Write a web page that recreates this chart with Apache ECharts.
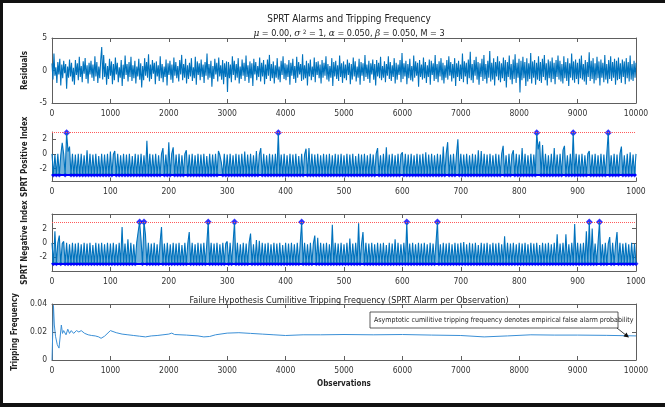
<!DOCTYPE html>
<html>
<head>
<meta charset="utf-8">
<script src="https://cdn.jsdelivr.net/npm/echarts@6/dist/echarts.min.js"></script>
<style>
  html, body { margin: 0; padding: 0; background: #fff; }
  #chart { width: 665px; height: 407px; }
</style>
</head>
<body>
<div id="chart"></div>
<script>
// residuals (one value per ~17 observations)
const residuals = [
  1.1,-1.4,2.6,-0.8,0.5,-1.9,1.3,-0.6,1.8,-2.3,0.9,-1.2,1.5,-0.4,1.0,-2.8,0.6,-1.1,1.7,-0.9,
  1.2,-1.7,0.4,-2.2,1.6,-0.7,1.1,-1.5,2.1,-1.0,0.7,-1.8,1.4,-0.5,1.9,-1.3,0.8,-2.0,1.2,-0.6,
  1.5,-1.1,0.9,-1.6,2.2,-0.9,1.3,-1.9,0.6,-1.2,1.7,3.6,-1.4,2.4,-1.0,1.1,-2.2,0.7,-1.3,1.8,
  -0.8,1.4,-2.1,1.0,-1.5,2.0,-0.6,1.2,-1.8,0.5,-1.1,1.6,-2.4,0.9,-1.3,2.3,-0.7,1.0,-1.7,1.3,
  -1.0,2.1,-1.6,0.8,-1.2,1.5,-2.0,0.6,-0.9,1.8,-1.4,1.1,-2.6,0.7,-1.5,1.9,-0.8,1.3,-1.1,2.5,
  -1.7,0.9,-1.3,1.6,-0.5,1.2,-2.1,1.4,-0.9,0.8,-1.6,2.2,-1.2,1.0,-1.8,0.6,-1.0,1.7,-2.3,1.1,
  -0.7,1.5,-1.4,0.9,-1.9,2.0,-0.8,1.3,-1.2,0.7,-1.7,1.6,-0.6,2.4,-1.5,1.0,-1.1,1.8,-2.0,0.8,
  -1.3,1.2,-0.9,1.9,-1.6,0.5,-1.2,2.1,-2.2,1.4,-0.7,1.1,-1.5,1.7,-1.0,0.9,-1.9,1.3,-0.8,2.6,
  -1.4,1.0,-1.1,1.5,-2.5,0.7,-1.3,1.8,-0.6,1.2,-1.7,2.0,-0.9,0.8,-1.4,1.6,-2.1,1.1,-1.0,1.4,
  -3.3,1.3,-1.2,0.9,-1.8,2.2,-0.7,1.5,-1.5,1.0,-1.1,1.9,-2.0,0.6,-1.3,1.7,-0.8,1.2,-1.6,2.3,
  -1.0,0.8,-1.9,1.4,-1.2,1.1,-2.4,1.8,-0.6,1.3,-1.5,0.7,-1.0,2.0,-1.7,1.2,-0.9,1.6,-2.1,0.9,
  -1.3,1.7,-0.8,2.4,-1.6,1.0,-1.2,1.4,-2.0,0.8,-1.1,1.9,-1.4,0.6,-1.8,1.5,-0.7,2.2,-1.3,1.1,
  -1.5,0.9,-1.0,1.6,-2.2,1.2,-0.8,1.8,-1.3,0.7,-1.9,2.1,-1.1,1.3,-0.6,1.0,-1.6,2.5,-1.4,0.8,
  -1.2,1.5,-2.3,1.1,-0.9,1.7,-1.5,0.6,-1.0,2.0,-1.8,1.3,-0.7,1.4,-1.2,0.9,-2.0,1.6,-1.1,1.2,
  -0.8,2.2,-1.4,1.0,-1.7,0.7,-1.1,1.9,-2.4,1.3,-0.9,1.5,-1.3,0.8,-1.6,2.3,-1.0,1.1,-1.9,1.4,
  -1.2,0.9,-1.5,1.7,-0.7,1.2,-2.1,1.0,-1.4,2.0,-0.9,1.4,-1.7,0.6,-1.1,1.8,-2.2,1.3,-0.8,1.1,
  -1.6,2.4,-1.0,0.9,-1.3,1.5,-1.9,1.1,-0.6,1.7,-1.4,1.0,-2.3,1.6,-0.9,1.2,-1.2,2.1,-1.5,0.7,
  -1.1,1.4,-1.8,1.0,-0.8,2.2,-1.3,1.3,-1.6,0.8,-1.0,1.9,-2.0,1.2,-1.4,0.9,-0.7,1.6,-1.8,2.7,
  -1.3,1.1,-0.9,1.5,-2.1,1.0,-1.2,1.8,-1.5,0.7,-1.7,2.3,-1.1,1.4,-0.8,1.2,-2.5,1.6,-1.0,0.9,
  -1.4,2.0,-1.2,1.3,-1.9,0.8,-1.0,1.7,-2.2,1.5,-0.7,1.1,-1.6,2.4,-1.3,1.0,-1.8,1.4,-0.9,1.9,
  -1.5,1.2,-2.0,0.8,-1.1,1.6,-1.4,2.2,-0.8,1.3,-1.7,1.0,-1.2,1.9,-2.4,1.1,-1.0,1.5,-1.6,0.9,
  -1.3,2.6,-1.8,1.4,-0.9,1.2,-2.1,1.7,-1.2,2.9,-1.5,1.0,-1.9,1.6,-0.8,2.1,-1.4,1.3,-2.2,1.1,
  -1.0,1.8,-1.6,2.4,-1.3,1.0,-2.0,1.5,-1.1,3.0,-1.7,1.2,-1.4,1.9,-2.3,1.3,-0.9,2.2,-1.5,1.4,
  -1.8,1.1,-1.2,2.0,-1.6,1.6,-2.6,1.3,-1.0,2.3,-1.4,1.0,-2.1,1.7,-1.3,2.5,-1.9,1.2,-1.1,1.8,
  -3.4,1.5,-1.5,2.1,-1.2,1.3,-2.4,1.9,-1.7,1.1,-1.3,2.7,-2.0,1.4,-1.1,1.6,-2.2,1.2,-1.4,2.2,
  -1.6,1.3,-1.9,1.8,-1.0,2.4,-1.5,1.1,-2.3,1.7,-1.2,1.4,-1.8,2.0,-1.3,1.2,-2.1,1.6,-1.0,2.3,
  -1.4,1.5,-1.7,1.0,-2.0,2.2,-1.2,1.3,-1.6,1.9,-2.4,1.1,-1.1,2.6,-1.5,1.4,-1.9,1.7,-1.3,1.2,
  -2.1,1.8,-1.2,2.3,-1.4,1.0,-1.7,1.6,-2.2,1.3,-1.0,2.8,-1.6,1.5,-1.3,1.9,-2.0,1.1,-1.5,2.1,
  -1.2,1.4,-2.3,1.7,-1.1,1.2,-1.8,2.4,-1.4,1.0,-2.0,1.6,-1.3,2.2,-1.6,1.3,-1.1,1.8,-2.2,1.5,
  -1.5,2.0,-1.3,1.1,-1.9,1.7,-1.0,1.4,-2.1,1.9,-1.2,1.3,-1.7,2.3,-1.4,1.0,-1.6,1.5,-1.1,1.2
];
const residSpan = 10000;

// SPRT indices, one value every 2.5 samples (0..1000)
const idxStep = 2.5;
const posIndex = [
  0,-2.9,-0.1,-2.9,0,-2.9,-0.2,1.5,0,-2.9,2.9,0.3,1.0,-2.9,0,-2.9,-0.1,-2.9,0,-2.9,
  0,-2.9,-0.2,-2.9,0.5,-2.9,0,-2.9,-0.1,-2.9,0,-2.9,-0.3,-2.9,0,-2.9,-0.1,-2.9,0,-2.9,
  0.3,-2.9,-0.1,0.4,-2.9,0,-2.9,-0.2,-2.9,0,-2.9,-0.1,-2.9,0,-2.9,-0.3,-2.9,0,-2.9,-0.1,
  -2.9,0,-2.9,-0.2,-2.9,1.8,-2.9,0,-2.9,-0.1,-2.9,0,-2.9,-0.2,-2.9,0,0.8,-2.9,-0.1,-2.9,
  1.6,-2.9,0,0.9,-2.9,-0.1,-2.9,0,-2.9,-0.2,-2.9,0,0.5,-2.9,-0.1,-2.9,0,-2.9,-0.2,-2.9,
  0,-2.9,-0.1,-2.9,0,-2.9,-0.3,-2.9,0,-2.9,-0.1,-2.9,0,-2.9,0.4,-0.2,-1.2,-2.9,0,-2.9,
  -0.1,-2.9,0,-2.9,-0.2,-2.9,0,-2.9,-0.1,-2.9,0,-2.9,0.3,-2.9,-0.1,-2.9,0,-2.9,-0.2,-2.9,
  0.4,-2.9,-0.1,0.8,-2.9,0,-2.9,-0.2,-2.9,0,-2.9,-0.1,-2.9,0,-2.9,2.9,-2.9,-0.1,-2.9,0,
  -2.9,-0.2,-2.9,0,-2.9,-0.1,-2.9,0,-2.9,-0.3,-2.9,0,-2.9,-0.1,0.7,-2.9,0.8,-2.9,0,-2.9,
  -0.1,-2.9,0,-2.9,-0.2,-2.9,0,-2.9,-0.1,-2.9,0,-2.9,-0.2,-2.9,0,-2.9,-0.1,-2.9,0,-2.9,
  -0.2,-2.9,0,-2.9,-0.1,-2.9,0,-2.9,-0.3,-2.9,0,-2.9,-0.1,-2.9,0,-2.9,-0.2,-2.9,0,-2.9,
  -0.1,-2.9,0,0.8,-2.9,-0.2,-2.9,0,-2.9,0.9,-2.9,-0.1,-2.9,0,-2.9,-0.2,-2.9,0,-2.9,-0.1,
  0.2,-2.9,0,-2.9,-0.1,-2.9,0,-2.9,-0.2,-2.9,0,-2.9,-0.1,-2.9,0,-2.9,0.2,-2.9,-0.1,-2.9,
  0,-2.9,-0.2,-2.9,0,-2.9,-0.1,-2.9,1.0,-2.9,0,1.6,-2.9,-0.1,-2.9,0,-2.9,-0.2,2.0,-2.9,
  0,-2.9,-0.1,-2.9,0,-2.9,-0.2,-2.9,0,-2.9,-0.1,-2.9,0.5,-2.9,0.4,-2.9,0,-2.9,-0.1,-2.9,
  0,-2.9,-0.2,-2.9,0,-2.9,-0.1,-2.9,0,1.1,-2.9,-0.2,-2.9,0,-2.9,-0.1,0.5,-2.9,0,-2.9,
  -0.1,-2.9,0.8,-2.9,0,-2.9,-0.2,-2.9,0,-2.9,-0.1,-2.9,2.9,0.6,1.7,-2.9,1.2,-2.9,0,-2.9,
  -0.2,-2.9,0,-2.9,0.8,-2.9,-0.1,-2.9,0,-2.9,0.5,1.1,-2.9,-0.2,-2.9,0,-2.9,2.9,-2.9,0,
  -2.9,-0.1,-2.9,0,-2.9,-0.2,-2.9,0,0.4,-2.9,-0.1,-2.9,0,-2.9,-0.2,-2.9,0,-2.9,-0.1,-2.9,
  0,2.9,-2.9,-0.2,-2.9,0,-2.9,-0.1,-2.9,0,1.0,-2.9,-0.2,-2.9,0,-2.9,0.2,-2.9,-0.1,-2.9,
  0
];
const negIndex = [
  0,-2.9,1.6,-2.9,0,1.0,-2.9,-0.1,0.2,-2.9,0,-2.9,-0.2,-2.9,0,-2.9,-0.1,-2.9,0,-2.9,
  -0.2,-2.9,0,-2.9,-0.1,-2.9,0,-2.9,-0.3,-2.9,0,-2.9,-0.1,-2.9,0,-2.9,-0.2,-2.9,0,-2.9,
  -0.1,-2.9,0,-2.9,-0.2,-2.9,0,-2.9,2.2,-2.9,-0.1,-2.9,0.5,-2.9,0,-2.9,-0.2,-2.9,0,1.5,
  2.9,0.4,-2.9,2.9,1.2,-2.9,0,-2.9,-0.1,-2.9,0,-2.9,-0.2,-2.9,0,2.2,-2.9,-0.1,-2.9,0,
  -2.9,-0.2,-2.9,0,-2.9,-0.1,-2.9,0,-2.9,-0.3,-2.9,0,-2.9,-0.1,1.5,-2.9,0,-2.9,-0.2,-2.9,
  0,-2.9,-0.1,-2.9,0,-2.9,-0.2,2.9,-2.9,0,-2.9,-0.1,-2.9,0,-2.9,-0.2,-2.9,0,-2.9,-0.1,
  0.2,-2.9,0,-2.9,-0.1,2.9,-2.9,0,-2.9,-0.2,-2.9,0,-2.9,-0.1,-2.9,0,1.3,-2.9,-0.2,-2.9,
  0.4,-2.9,0.3,-2.9,0,-2.9,-0.1,-2.9,0,-2.9,-0.2,-2.9,0,-2.9,-0.1,-2.9,0,-2.9,-0.3,-2.9,
  0,-2.9,-0.1,-2.9,0,-2.9,-0.2,-2.9,0,-2.9,-0.1,2.9,-2.9,0,-2.9,-0.2,-2.9,0,-2.9,-0.1,
  1.0,-2.9,0.7,-2.9,0,-2.9,-0.1,-2.9,0,-2.9,-0.2,-2.9,2.5,-2.9,0,-2.9,-0.1,-2.9,0,-2.9,
  -0.2,-2.9,0,-2.9,0.6,-2.9,-0.1,-2.9,0,-2.9,2.7,-2.9,-0.2,1.5,-2.9,0,-2.9,-0.1,-2.9,0,
  -2.9,-0.2,-2.9,0,-2.9,-0.1,-2.9,0,-2.9,-0.3,-2.9,0,-2.9,-0.1,-2.9,0.5,-2.9,0,-2.9,-0.2,
  -2.9,0,-2.9,2.9,-2.9,-0.1,-2.9,0,-2.9,-0.2,-2.9,0,-2.9,-0.1,-2.9,0,-2.9,-0.2,-2.9,0,
  -2.9,-0.1,-2.9,0,2.9,-2.9,-0.2,-2.9,0,-2.9,-0.1,-2.9,0,-2.9,-0.2,-2.9,0,-2.9,-0.1,-2.9,
  0,-2.9,0.1,-2.9,-0.2,-2.9,0,-2.9,-0.1,-2.9,0,-2.9,-0.3,-2.9,0,-2.9,-0.1,-2.9,0,-2.9,
  -0.2,-2.9,0,-2.9,-0.1,-2.9,0,-2.9,-0.2,-2.9,0.9,-2.9,0,-2.9,-0.1,-2.9,0,-2.9,-0.2,-2.9,
  0,-2.9,-0.1,-2.9,0,-2.9,-0.2,-2.9,0,-2.9,-0.1,-2.9,0,-2.9,-0.3,-2.9,0,-2.9,-0.1,-2.9,
  0,-2.9,-0.2,-2.9,0,-2.9,1.2,-2.9,-0.1,-2.9,0,-2.9,1.2,-2.9,-0.2,-2.9,0,-2.9,2.6,-2.9,
  0,-2.9,-0.1,-2.9,0,-2.9,1.6,-2.9,2.9,-2.9,2.0,-2.9,-0.1,-2.9,0,2.9,-2.9,-0.2,-2.9,0,
  -2.9,-0.1,0.8,-2.9,0,-2.9,-0.2,1.5,-2.9,0,-2.9,-0.1,-2.9,0,-2.9,-0.2,-2.9,0,-2.9,-0.1,
  -2.9
];
const upperThr = 2.9;
const lowerThr = -2.9;

// cumulative tripping frequency
const cumObs = [
  0,15,25,40,60,90,120,145,160,180,
  200,240,270,300,330,370,420,460,500,560,
  620,680,740,800,840,900,1000,1100,1200,1300,
  1400,1500,1600,1700,1800,1900,2000,2050,2100,2300,
  2500,2600,2700,2800,3000,3200,3400,3600,3800,4000,
  4300,4600,5000,5500,6000,6500,7000,7400,7800,8200,
  8600,9000,9500,10000
];
const cumFreq = [
  0,0,0.039,0.025,0.017,0.011,0.0085,0.0072,0.025,0.019,
  0.021,0.018,0.022,0.019,0.021,0.019,0.021,0.02,0.021,0.019,
  0.018,0.0175,0.0172,0.0165,0.0155,0.017,0.021,0.0195,0.0185,0.018,
  0.0175,0.017,0.0165,0.0172,0.0175,0.018,0.0185,0.0192,0.0182,0.0178,
  0.0172,0.0165,0.0168,0.018,0.0192,0.0195,0.019,0.0185,0.018,0.0175,
  0.018,0.018,0.0182,0.018,0.0182,0.0178,0.0175,0.0165,0.0172,0.018,
  0.0178,0.0178,0.0176,0.0172
];

const indexTicks = [-2, 0, 2];

const FONT = "'Liberation Sans Narrow', 'Arial Narrow', 'DejaVu Sans Condensed', sans-serif";
const AX = '#5e5e5e';
const TXT = '#333';

const residData = residuals.map((v, i) => [i * residSpan / (residuals.length - 1), v]);
const posData = posIndex.map((v, i) => [i * idxStep, v]);
const negData = negIndex.map((v, i) => [i * idxStep, v]);
const cumData = cumObs.map((x, i) => [x, cumFreq[i]]);

function plain(v) { return String(v); }

function xAx(grid, max, interval, opts) {
  return Object.assign({
    type: 'value', gridIndex: grid, min: 0, max: max, interval: interval,
    axisLine: { onZero: false, lineStyle: { color: AX, width: 1 } },
    axisTick: { inside: true, length: 4, lineStyle: { color: AX } },
    axisLabel: { fontSize: 8.5, color: TXT, fontFamily: FONT, margin: 6, formatter: plain },
    splitLine: { show: false }
  }, opts || {});
}
function yAx(grid, opts) {
  return Object.assign({
    type: 'value', gridIndex: grid,
    axisLine: { show: true, onZero: false, lineStyle: { color: AX, width: 1 } },
    axisTick: { show: true, inside: true, length: 4, lineStyle: { color: AX } },
    axisLabel: { fontSize: 8.5, color: TXT, fontFamily: FONT, margin: 5, formatter: plain },
    splitLine: { show: false },
    nameLocation: 'middle', nameRotate: 90, nameGap: 20,
    nameTextStyle: { fontSize: 8, fontWeight: 'bold', color: '#222', fontFamily: FONT }
  }, opts || {});
}
function topAx(grid, max, interval) {
  return xAx(grid, max, interval, { position: 'top', axisLabel: { show: false } });
}
function rightAx(grid, min, max, interval, extra) {
  return yAx(grid, Object.assign({ position: 'right', min: min, max: max, interval: interval, axisLabel: { show: false } }, extra || {}));
}
function idxTickOpts() {
  return {
    axisLabel: { fontSize: 8.5, color: TXT, fontFamily: FONT, margin: 5, customValues: indexTicks, formatter: plain },
    axisTick: { show: true, inside: true, length: 4, lineStyle: { color: AX }, customValues: indexTicks }
  };
}
function indexSeries(xi, yi, data) {
  return [
    { type: 'line', xAxisIndex: xi, yAxisIndex: yi, data: data, showSymbol: false,
      lineStyle: { color: '#0072BD', width: 1.1 },
      areaStyle: { color: '#0072BD', opacity: 0.55, origin: lowerThr },
      markLine: { silent: true, symbol: 'none', label: { show: false },
        data: [
          { yAxis: upperThr, lineStyle: { color: '#ff5a5a', type: 'dotted', width: 1 } },
          { yAxis: lowerThr, lineStyle: { color: '#0000ff', type: 'solid', width: 2 } }
        ] } },
    { type: 'scatter', xAxisIndex: xi, yAxisIndex: yi, symbol: 'diamond', symbolSize: 5,
      itemStyle: { color: '#0000ff' }, data: data.filter(p => p[1] <= lowerThr) },
    { type: 'scatter', xAxisIndex: xi, yAxisIndex: yi, symbol: 'diamond', symbolSize: 7,
      itemStyle: { color: '#0000ff' }, data: data.filter(p => p[1] >= upperThr) }
  ];
}

const chart = echarts.init(document.getElementById('chart'));
chart.setOption({
  animation: false,
  backgroundColor: '#fff',
  textStyle: { fontFamily: FONT },
  title: [
    { text: 'SPRT Alarms and Tripping Frequency', left: 344, top: 9, textAlign: 'center',
      textStyle: { fontSize: 10, fontWeight: 'normal', color: '#222', fontFamily: FONT } },
    { text: '{g|μ} = 0.00, {g|σ} {s|2} = 1, {g|α} = 0.050, {g|β} = 0.050, M = 3', left: 344, top: 24, textAlign: 'center',
      textStyle: { fontSize: 9, fontWeight: 'normal', color: '#222', fontFamily: FONT,
        rich: {
          g: { fontSize: 9, fontStyle: 'italic', fontFamily: "'DejaVu Serif', serif", color: '#222' },
          s: { fontSize: 6, verticalAlign: 'top', color: '#222', fontFamily: FONT }
        } } },
    { text: 'Failure Hypothesis Cumilitive Tripping Frequency (SPRT Alarm per Observation)', left: 344, top: 291, textAlign: 'center',
      textStyle: { fontSize: 9, fontWeight: 'normal', color: '#222', fontFamily: FONT } }
  ],
  grid: [
    { left: 52, width: 584, top: 38, height: 65 },
    { left: 52, width: 584, top: 132, height: 49.5 },
    { left: 52, width: 584, top: 214, height: 57 },
    { left: 52, width: 584, top: 304, height: 56 }
  ],
  xAxis: [
    xAx(0, 10000, 1000),
    topAx(0, 10000, 1000),
    xAx(1, 1000, 100),
    xAx(2, 1000, 100),
    topAx(2, 1000, 100),
    xAx(3, 10000, 1000, { name: 'Observations', nameLocation: 'middle', nameGap: 20,
      nameTextStyle: { fontSize: 8, fontWeight: 'bold', color: '#222', fontFamily: FONT } }),
    topAx(3, 10000, 1000)
  ],
  yAxis: [
    yAx(0, { min: -5, max: 5, interval: 5, name: 'Residuals' }),
    rightAx(0, -5, 5, 5),
    yAx(1, Object.assign({ min: -3.8, max: 3, name: 'SPRT Positive Index', nameGap: 21 }, idxTickOpts())),
    yAx(2, Object.assign({ min: -3.9, max: 4, name: 'SPRT Negative Index', nameGap: 21 }, idxTickOpts())),
    rightAx(2, -3.9, 4, null, {
      axisTick: { show: true, inside: true, length: 4, lineStyle: { color: AX }, customValues: indexTicks } }),
    yAx(3, { min: 0, max: 0.04, interval: 0.02, name: 'Tripping Frequency', nameGap: 24 }),
    rightAx(3, 0, 0.04, 0.02)
  ],
  series: [
    { type: 'line', xAxisIndex: 0, yAxisIndex: 0, data: residData, showSymbol: false,
      lineStyle: { color: '#0072BD', width: 1.1 } }
  ].concat(
    indexSeries(2, 2, posData),
    indexSeries(3, 3, negData),
    [{ type: 'line', xAxisIndex: 5, yAxisIndex: 5, data: cumData, showSymbol: false,
       lineStyle: { color: '#3a8fd6', width: 1 } }]
  ),
  graphic: [
    // picture frame
    { type: 'rect', shape: { x: 0, y: 0, width: 665, height: 3 }, style: { fill: '#111' } },
    { type: 'rect', shape: { x: 0, y: 0, width: 3, height: 407 }, style: { fill: '#111' } },
    { type: 'rect', shape: { x: 0, y: 403, width: 665, height: 4 }, style: { fill: '#111' } },
    // annotation box + arrow
    { type: 'rect', shape: { x: 370, y: 312, width: 248, height: 16 },
      style: { fill: '#fff', stroke: '#333', lineWidth: 0.8 }, z: 100 },
    { type: 'text', x: 374, y: 320, z: 101,
      style: { text: 'Asymptotic cumilitive tripping frequency denotes empirical false alarm probability',
        fontSize: 7, fill: '#222', fontFamily: FONT, verticalAlign: 'middle' } },
    { type: 'line', shape: { x1: 617, y1: 328, x2: 627, y2: 336 },
      style: { stroke: '#111', lineWidth: 0.8 }, z: 101 },
    { type: 'polygon', shape: { points: [[629, 337.5], [623.5, 336.5], [626.5, 332.5]] },
      style: { fill: '#111' }, z: 101 }
  ]
});
</script>
</body>
</html>
